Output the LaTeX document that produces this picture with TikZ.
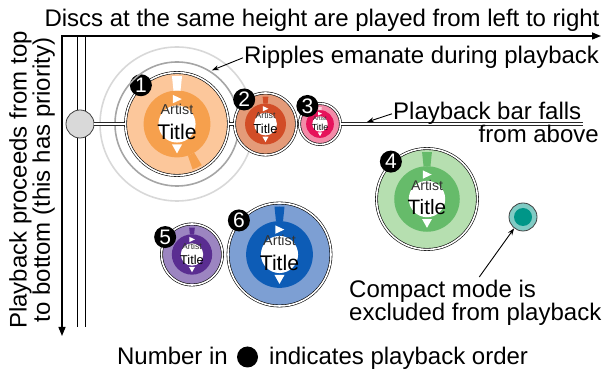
\documentclass[tikz,border=0pt]{standalone}
\usepackage{fontspec}
\setmainfont{Liberation Sans}
\usetikzlibrary{arrows.meta, positioning}
\definecolor{orlight}{RGB}{252,199,155}
\definecolor{ordark}{RGB}{246,160,77}
\definecolor{rdlight}{RGB}{228,155,121}
\definecolor{rddark}{RGB}{210,77,39}
\definecolor{pklight}{RGB}{243,139,168}
\definecolor{pkdark}{RGB}{230,19,91}
\definecolor{grlight}{RGB}{182,223,176}
\definecolor{grdark}{RGB}{102,187,106}
\definecolor{pulight}{RGB}{156,133,193}
\definecolor{pudark}{RGB}{90,45,145}
\definecolor{bllight}{RGB}{125,159,211}
\definecolor{bldark}{RGB}{13,92,182}
\definecolor{tllight}{RGB}{128,203,196}
\definecolor{tldark}{RGB}{0,150,136}
\definecolor{ripgray}{RGB}{165,165,165}
\definecolor{ripfaint}{RGB}{216,216,216}
\definecolor{knobgray}{RGB}{217,217,217}
\definecolor{artgray}{RGB}{51,51,51}
\newcommand{\playdisc}[9]{%
  \node[disc, minimum size=2*#4-3, fill=#5] (#1) at (#2,#3) {};
  \fill[#6] (#1.center) circle[radius=0.63*#4];
  \fill[#9] ([shift={(84:0.63*#4)}]#1.center) arc[start angle=84, end angle=96, radius=0.63*#4] -- ([shift={(96:#4-5)}]#1.center) arc[start angle=96, end angle=84, radius=#4-5] -- cycle;
  \fill[white] (#1.center) circle[radius=0.35*#4];
  \fill[white] ([shift={(-0.08*#4,0.55*#4)}]#1.center) -- ++(0.17*#4,-0.08*#4) -- ++(-0.17*#4,-0.08*#4) -- cycle;
  \fill[white] ([shift={(-0.095*#4,-0.385*#4)}]#1.center) -- ++(0.19*#4,0) -- ++(-0.095*#4,-0.17*#4) -- cycle;
  \node[anchor=base, inner sep=0, text=artgray, font=\fontsize{\fpeval{0.27*#4}}{\fpeval{0.3*#4}}\selectfont] (#1a) at ([yshift=0.17*#4]#1.center) {Artist};
  \node[anchor=base, inner sep=0, text=black, font=\fontsize{\fpeval{0.40*#4}}{\fpeval{0.44*#4}}\selectfont] (#1t) at ([yshift=-0.30*#4]#1.center) {Title};
  \node[badge] (#1n) at ([shift={(#8:#4)}]#1.center) {#7};
}

\begin{document}
\begin{tikzpicture}[
  x=1pt, y=1pt,
  lbl/.style={font=\fontsize{24}{22}\selectfont, inner sep=1pt},
  disc/.style={circle, draw=black, line width=0.6pt, double=white, double distance=1.6pt, inner sep=0},
  badge/.style={circle, fill=black, text=white, minimum size=22pt, inner sep=0, font=\fontsize{21}{21}\selectfont},
  knob/.style={circle, fill=knobgray, draw=black!75, line width=0.8pt, minimum size=28pt, inner sep=0},
  bar/.style={draw=black!85, line width=0.8pt, double=white, double distance=1.6pt},
  axis/.style={line width=1.4pt, {Triangle[length=9pt,width=7pt]}-{Triangle[length=9pt,width=7pt]}},
  lane/.style={line width=0.6pt},
  callout/.style={black, line width=0.9pt, -{Stealth[length=7pt,width=5pt]}}
]
  \useasboundingbox (0,0) rectangle (602,369);

  \coordinate (ytip) at (62,33);
  \coordinate (corner) at (62,333);
  \coordinate (xtip) at (601,333);
  \draw[axis] (ytip) -- (corner) -- (xtip);
  \coordinate (lanea) at (77,333);
  \coordinate (laneb) at (77,42);
  \coordinate (lanec) at (85,333);
  \coordinate (laned) at (85,42);
  \draw[lane] (lanea) -- (laneb) (lanec) -- (laned);

  \node[lbl, anchor=base] (toptxt) at (322,342) {Discs at the same height are played from left to right};
  \node[lbl, rotate=90, align=center] (sidetxt) at (32,189) {Playback proceeds from top\\to bottom (this has priority)};

  \node[knob] (gc) at (80,245) {};

  \playdisc{d1}{177}{245}{53}{orlight}{ordark}{1}{133}{white}
  \fill[ordark] ([shift={(-71:0.63*53)}]d1.center) arc[start angle=-71, end angle=-59, radius=0.63*53] -- ([shift={(-59:48)}]d1.center) arc[start angle=-59, end angle=-71, radius=48] -- cycle;
  \draw[ripgray, line width=1.6pt] (d1.center) circle[radius=62];
  \draw[ripfaint, line width=1.6pt] (d1.center) circle[radius=77];
  \playdisc{d2}{265.5}{245}{32.5}{rdlight}{rddark}{2}{131}{rddark}
  \playdisc{d3}{320}{245}{22}{pklight}{pkdark}{3}{125}{white!60!pklight}
  \playdisc{d4}{427}{170}{52}{grlight}{grdark}{4}{134}{grdark}
  \playdisc{d5}{192}{114.5}{32}{pulight}{pudark}{5}{147}{pudark}
  \playdisc{d6}{279.5}{114.5}{53}{bllight}{bldark}{6}{140}{bldark}

  \node[circle, fill=tllight, draw=black!75, line width=0.8pt, minimum size=28pt, inner sep=0] (cd) at (523,152) {};
  \fill[tldark] (cd.center) circle[radius=9];

  \coordinate (barend) at (583,245);
  \draw[bar] (gc.east) -- (d1.west) (d1.east) -- (d2.west) (d3.east) -- (barend);

  \node[lbl, anchor=base west] (rip) at (243,305) {Ripples emanate during playback};
  \coordinate (ripplept) at ([shift={(57:64)}]d1.center);
  \draw[callout] (rip.west) -- (ripplept);

  \node[lbl, anchor=base west] (pbf) at (392,249) {Playback bar falls};
  \node[lbl, anchor=base east] (above) at (600,226) {from above};
  \coordinate (barpt) at (367,247);
  \draw[callout] (pbf.west) -- (barpt);

  \node[lbl, anchor=north west, align=left] (cmp) at (348,90) {Compact mode is\\excluded from playback};
  \draw[callout] ([xshift=4pt, yshift=2pt]cmp.north) -- (cd.232);

  \node[lbl, anchor=base east] (numa) at (229,4) {Number in};
  \node[circle, fill=black, minimum size=21pt, inner sep=0] (numdot) at (247.5,12) {};
  \node[lbl, anchor=base west] (numb) at (268,4) {indicates playback order};
\end{tikzpicture}
\end{document}
